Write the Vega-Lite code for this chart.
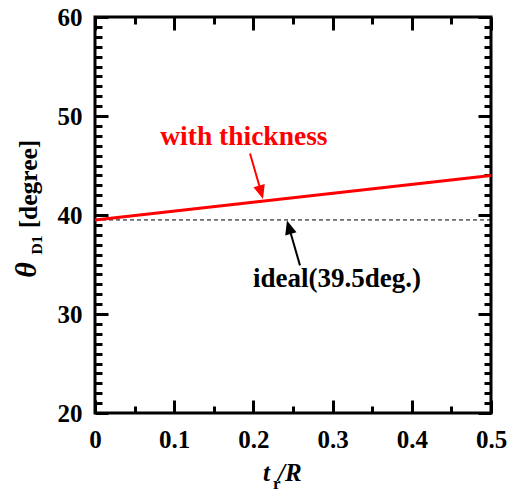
{
  "$schema": "https://vega.github.io/schema/vega-lite/v6.json",
  "width": 396,
  "height": 396,
  "autosize": {"type": "none"},
  "padding": {"left": 95, "top": 17, "right": 20, "bottom": 79},
  "background": "white",
  "config": {
    "view": {"stroke": "#000", "strokeWidth": 3},
    "font": "Liberation Serif",
    "axis": {
      "domain": false,
      "grid": false,
      "tickColor": "#000",
      "labelFont": "Liberation Serif",
      "labelFontSize": 25,
      "labelFontWeight": "bold",
      "labelColor": "#000",
      "labelOverlap": false,
      "labelFlush": false,
      "labelBound": false
    }
  },
  "datasets": {
    "thickness": [{"tR": 0, "theta": 39.5}, {"tR": 0.5, "theta": 44.0}],
    "ideal": [{"tR": 0, "theta": 39.5}, {"tR": 0.5, "theta": 39.5}]
  },
  "resolve": {"axis": {"x": "independent", "y": "independent"}},
  "layer": [
    {
      "data": {"name": "ideal"},
      "mark": {"type": "line", "color": "#000", "strokeWidth": 1, "strokeDash": [4, 3]},
      "encoding": {
        "x": {
          "field": "tR", "type": "quantitative",
          "scale": {"domain": [0, 0.5], "nice": false, "zero": false},
          "axis": {
            "orient": "bottom", "title": null,
            "values": [0, 0.05, 0.1, 0.15, 0.2, 0.25, 0.3, 0.35, 0.4, 0.45, 0.5],
            "labelExpr": "round(datum.value*100) % 10 === 0 ? format(datum.value, '~g') : ''",
            "tickSize": {"condition": {"test": "round(datum.value*100) % 10 === 0", "value": -13}, "value": -7},
            "tickWidth": 3,
            "labelPadding": 27
          }
        },
        "y": {
          "field": "theta", "type": "quantitative",
          "scale": {"domain": [20, 60], "nice": false, "zero": false},
          "axis": {
            "orient": "left", "title": null,
            "values": [20,21,22,23,24,25,26,27,28,29,30,31,32,33,34,35,36,37,38,39,40,41,42,43,44,45,46,47,48,49,50,51,52,53,54,55,56,57,58,59,60],
            "labelExpr": "datum.value % 10 === 0 ? datum.label : ''",
            "tickSize": {"condition": {"test": "datum.value % 10 === 0", "value": -13}, "value": -7},
            "tickWidth": 3,
            "labelPadding": 26
          }
        }
      }
    },
    {
      "data": {"name": "thickness"},
      "mark": {"type": "line", "color": "#ff0000", "strokeWidth": 3},
      "encoding": {
        "x": {
          "field": "tR", "type": "quantitative",
          "axis": {
            "orient": "top", "title": null, "labels": false,
            "values": [0, 0.05, 0.1, 0.15, 0.2, 0.25, 0.3, 0.35, 0.4, 0.45, 0.5],
            "tickSize": {"condition": {"test": "round(datum.value*100) % 10 === 0", "value": -13}, "value": -7},
            "tickWidth": 3
          }
        },
        "y": {
          "field": "theta", "type": "quantitative",
          "axis": {
            "orient": "right", "title": null, "labels": false,
            "values": [20,21,22,23,24,25,26,27,28,29,30,31,32,33,34,35,36,37,38,39,40,41,42,43,44,45,46,47,48,49,50,51,52,53,54,55,56,57,58,59,60],
            "tickSize": {"condition": {"test": "datum.value % 10 === 0", "value": -13}, "value": -7},
            "tickWidth": 3
          }
        }
      }
    },
    {
      "data": {"values": [{"x0": 0.1957, "y0": 46.22, "x1": 0.2093, "y1": 42.45}]},
      "mark": {"type": "rule", "color": "#ff0000", "strokeWidth": 2},
      "encoding": {
        "x": {"field": "x0", "type": "quantitative", "axis": null},
        "y": {"field": "y0", "type": "quantitative", "axis": null},
        "x2": {"field": "x1"},
        "y2": {"field": "y1"}
      }
    },
    {
      "data": {"values": [{"x": 0.2121, "y": 41.62}]},
      "mark": {"type": "point", "shape": "M0,0L0.42,1L-0.42,1Z", "size": 784, "angle": 163.9, "filled": true, "color": "#ff0000", "opacity": 1, "strokeWidth": 0},
      "encoding": {
        "x": {"field": "x", "type": "quantitative", "axis": null},
        "y": {"field": "y", "type": "quantitative", "axis": null}
      }
    },
    {
      "data": {"values": [{"x0": 0.2588, "y0": 34.91, "x1": 0.2452, "y1": 38.68}]},
      "mark": {"type": "rule", "color": "#000", "strokeWidth": 2},
      "encoding": {
        "x": {"field": "x0", "type": "quantitative", "axis": null},
        "y": {"field": "y0", "type": "quantitative", "axis": null},
        "x2": {"field": "x1"},
        "y2": {"field": "y1"}
      }
    },
    {
      "data": {"values": [{"x": 0.2424, "y": 39.45}]},
      "mark": {"type": "point", "shape": "M0,0L0.42,1L-0.42,1Z", "size": 784, "angle": 343.9, "filled": true, "color": "#000", "opacity": 1, "strokeWidth": 0},
      "encoding": {
        "x": {"field": "x", "type": "quantitative", "axis": null},
        "y": {"field": "y", "type": "quantitative", "axis": null}
      }
    },
    {
      "data": {"values": [{"x": 0.188, "y": 47.03, "note": "with thickness"}]},
      "mark": {"type": "text", "font": "Liberation Serif", "fontSize": 27.5, "fontWeight": "bold", "color": "#ff0000", "align": "center", "baseline": "alphabetic"},
      "encoding": {
        "x": {"field": "x", "type": "quantitative", "axis": null},
        "y": {"field": "y", "type": "quantitative", "axis": null},
        "text": {"field": "note"}
      }
    },
    {
      "data": {"values": [{"x": 0.3056, "y": 32.69, "note": "ideal(39.5deg.)"}]},
      "mark": {"type": "text", "font": "Liberation Serif", "fontSize": 27, "fontWeight": "bold", "color": "#000", "align": "center", "baseline": "alphabetic"},
      "encoding": {
        "x": {"field": "x", "type": "quantitative", "axis": null},
        "y": {"field": "y", "type": "quantitative", "axis": null},
        "text": {"field": "note"}
      }
    },
    {
      "data": {"values": [{"x": 0.2121, "y": 13.1, "part": "t"}, {"x": 0.2311, "y": 13.1, "part": "/R"}]},
      "mark": {"type": "text", "font": "Liberation Serif", "fontSize": 25, "fontWeight": "bold", "fontStyle": "italic", "color": "#000", "align": "left", "baseline": "alphabetic"},
      "encoding": {
        "x": {"field": "x", "type": "quantitative", "axis": null},
        "y": {"field": "y", "type": "quantitative", "axis": null},
        "text": {"field": "part"}
      }
    },
    {
      "data": {"values": [{"x": 0.2247, "y": 12.3, "part": "r"}]},
      "mark": {"type": "text", "font": "Liberation Serif", "fontSize": 17, "fontWeight": "bold", "color": "#000", "align": "left", "baseline": "alphabetic"},
      "encoding": {
        "x": {"field": "x", "type": "quantitative", "axis": null},
        "y": {"field": "y", "type": "quantitative", "axis": null},
        "text": {"field": "part"}
      }
    },
    {
      "data": {"values": [{"x": -0.0745, "y": 34.44, "part": "θ"}]},
      "mark": {"type": "text", "font": "Liberation Serif", "fontSize": 30, "fontWeight": "bold", "fontStyle": "italic", "angle": 270, "color": "#000", "align": "center", "baseline": "alphabetic"},
      "encoding": {
        "x": {"field": "x", "type": "quantitative", "axis": null},
        "y": {"field": "y", "type": "quantitative", "axis": null},
        "text": {"field": "part"}
      }
    },
    {
      "data": {"values": [{"x": -0.0669, "y": 36.97, "part": "D1"}]},
      "mark": {"type": "text", "font": "Liberation Serif", "fontSize": 15.5, "fontWeight": "bold", "angle": 270, "color": "#000", "align": "center", "baseline": "alphabetic"},
      "encoding": {
        "x": {"field": "x", "type": "quantitative", "axis": null},
        "y": {"field": "y", "type": "quantitative", "axis": null},
        "text": {"field": "part"}
      }
    },
    {
      "data": {"values": [{"x": -0.0732, "y": 43.13, "part": "[degree]"}]},
      "mark": {"type": "text", "font": "Liberation Serif", "fontSize": 25.5, "fontWeight": "bold", "angle": 270, "color": "#000", "align": "center", "baseline": "alphabetic"},
      "encoding": {
        "x": {"field": "x", "type": "quantitative", "axis": null},
        "y": {"field": "y", "type": "quantitative", "axis": null},
        "text": {"field": "part"}
      }
    }
  ]
}
